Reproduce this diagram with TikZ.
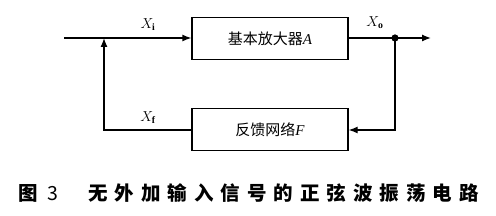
\documentclass[tikz,border=0pt]{standalone}
\usepackage{fontspec}
\setmainfont{Liberation Serif}
\newfontfamily\cjk{Noto Sans CJK SC}
\usetikzlibrary{arrows.meta}
\begin{document}
\begin{tikzpicture}[x=1pt,y=1pt,
  blk/.style={draw,line width=1.3pt,minimum width=156pt,minimum height=42pt,inner sep=0pt,font=\cjk\fontsize{15}{15}\selectfont},
  wire/.style={line width=1.3pt},
  arr/.style={wire,-{Latex[length=9pt,width=7pt]}},
  lbl/.style={font=\fontsize{14}{14}\selectfont},
  captext/.style={font=\cjk\bfseries\fontsize{19.5}{19.5}\selectfont,inner sep=0pt}]
\useasboundingbox (0,0) rectangle (496,216);
\node[blk] (amp) at (270,177.5) {基本放大器{\rmfamily\itshape A}};
\node[blk] (fb) at (270,86.5) {反馈网络{\rmfamily\itshape F}};
\coordinate (in) at (64,178);
\coordinate (j) at (104,178);
\coordinate (dot) at (395,178);
\coordinate (out) at (431,178);
\draw[arr] (in) -- (amp.west |- in);
\draw[arr] (amp.east |- dot) -- (out);
\fill (dot) circle (3.6pt);
\draw[arr] (dot) |- (fb.east |- 0,86);
\draw[arr] (fb.west |- 0,86) -| (j);
\node[lbl] (xi) at (148,191) {$X_{\mathbf{i}}$};
\node[lbl] (xo) at (375,193) {$X_{\mathbf{o}}$};
\node[lbl] (xf) at (148,98) {$X_{\mathbf{f}}$};
\node[captext,anchor=west] (c1) at (18,23) {图\hspace{10pt}{\mdseries 3}};
\node[captext,anchor=west] (c2) at (88,23) {\addfontfeatures{LetterSpace=36}无外加输入信号的正弦波振荡电路};
\end{tikzpicture}
\end{document}
